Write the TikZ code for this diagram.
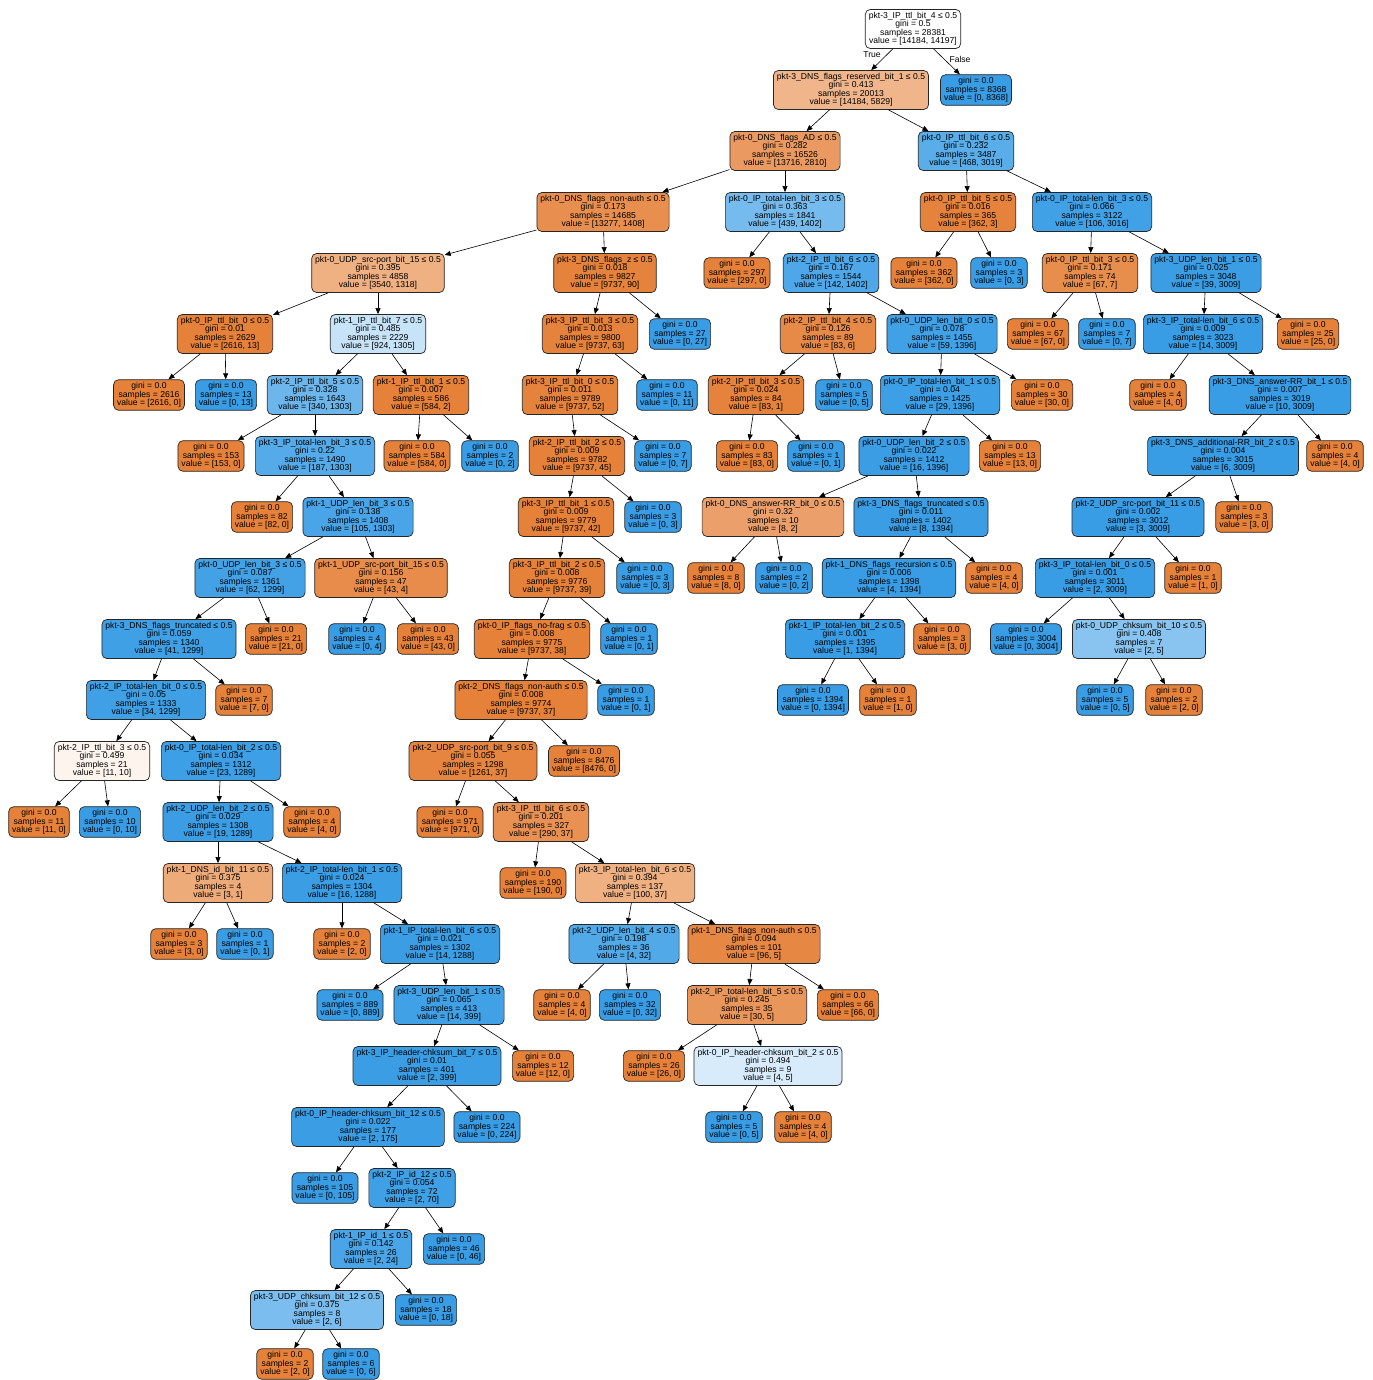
\documentclass[tikz,border=0pt]{standalone}
\usepackage{fontspec}
\setmainfont{Liberation Sans}
\usetikzlibrary{arrows.meta}
\definecolor{cls0}{HTML}{E58139}
\definecolor{cls1}{HTML}{399DE5}

\begin{document}
\begin{tikzpicture}[x=1pt, y=-1pt, >={Triangle[length=6pt,width=5pt]},
  testbox/.style={draw=black!85, line width=0.7pt, rounded corners=5pt, align=center,
    inner xsep=3.5pt, inner ysep=2.8pt, font=\fontsize{8.6}{8.5}\selectfont},
  leafbox/.style={testbox},
  link/.style={->, line width=0.6pt}]
  % page
  \fill[white] (0,0) rectangle (1372,1380);

  % split nodes, row by row
  \node[testbox, fill=white] (A) at (913,29) {pkt-3\_IP\_ttl\_bit\_4 ≤ 0.5\\gini = 0.5\\samples = 28381\\value = [14184, 14197]};

  \node[testbox, fill=cls0!59] (B) at (851,90) {pkt-3\_DNS\_flags\_reserved\_bit\_1 ≤ 0.5\\gini = 0.413\\samples = 20013\\value = [14184, 5829]};

  \node[testbox, fill=cls0!80] (D) at (785,151) {pkt-0\_DNS\_flags\_AD ≤ 0.5\\gini = 0.282\\samples = 16526\\value = [13716, 2810]};
  \node[testbox, fill=cls1!84] (E) at (966,151) {pkt-0\_IP\_ttl\_bit\_6 ≤ 0.5\\gini = 0.232\\samples = 3487\\value = [468, 3019]};

  \node[testbox, fill=cls0!89] (F) at (603,212) {pkt-0\_DNS\_flags\_non-auth ≤ 0.5\\gini = 0.173\\samples = 14685\\value = [13277, 1408]};
  \node[testbox, fill=cls1!69] (G) at (785,212) {pkt-0\_IP\_total-len\_bit\_3 ≤ 0.5\\gini = 0.363\\samples = 1841\\value = [439, 1402]};
  \node[testbox, fill=cls0!99] (H) at (968,212) {pkt-0\_IP\_ttl\_bit\_5 ≤ 0.5\\gini = 0.016\\samples = 365\\value = [362, 3]};
  \node[testbox, fill=cls1!96] (I) at (1092,212) {pkt-0\_IP\_total-len\_bit\_3 ≤ 0.5\\gini = 0.066\\samples = 3122\\value = [106, 3016]};

  \node[testbox, fill=cls0!63] (J) at (378,273) {pkt-0\_UDP\_src-port\_bit\_15 ≤ 0.5\\gini = 0.395\\samples = 4858\\value = [3540, 1318]};
  \node[testbox, fill=cls0!99] (K) at (605,273) {pkt-3\_DNS\_flags\_z ≤ 0.5\\gini = 0.018\\samples = 9827\\value = [9737, 90]};
  \node[testbox, fill=cls1!90] (M) at (831,273) {pkt-2\_IP\_ttl\_bit\_6 ≤ 0.5\\gini = 0.167\\samples = 1544\\value = [142, 1402]};
  \node[testbox, fill=cls0!90] (P) at (1090,273) {pkt-0\_IP\_ttl\_bit\_3 ≤ 0.5\\gini = 0.171\\samples = 74\\value = [67, 7]};
  \node[testbox, fill=cls1!99] (Q) at (1206,273) {pkt-3\_UDP\_len\_bit\_1 ≤ 0.5\\gini = 0.025\\samples = 3048\\value = [39, 3009]};

  \node[testbox, fill=cls0] (R) at (225,334) {pkt-0\_IP\_ttl\_bit\_0 ≤ 0.5\\gini = 0.01\\samples = 2629\\value = [2616, 13]};
  \node[testbox, fill=cls1!29] (S) at (378,334) {pkt-1\_IP\_ttl\_bit\_7 ≤ 0.5\\gini = 0.485\\samples = 2229\\value = [924, 1305]};
  \node[testbox, fill=cls0!99] (T) at (590,334) {pkt-3\_IP\_ttl\_bit\_3 ≤ 0.5\\gini = 0.013\\samples = 9800\\value = [9737, 63]};
  \node[testbox, fill=cls0!93] (V) at (828,334) {pkt-2\_IP\_ttl\_bit\_4 ≤ 0.5\\gini = 0.126\\samples = 89\\value = [83, 6]};
  \node[testbox, fill=cls1!96] (W) at (942,334) {pkt-0\_UDP\_len\_bit\_0 ≤ 0.5\\gini = 0.078\\samples = 1455\\value = [59, 1396]};
  \node[testbox, fill=cls1] (Z) at (1203,334) {pkt-3\_IP\_total-len\_bit\_6 ≤ 0.5\\gini = 0.009\\samples = 3023\\value = [14, 3009]};

  \node[testbox, fill=cls1!74] (a3) at (315,395) {pkt-2\_IP\_ttl\_bit\_5 ≤ 0.5\\gini = 0.328\\samples = 1643\\value = [340, 1303]};
  \node[testbox, fill=cls0] (a4) at (421,395) {pkt-1\_IP\_ttl\_bit\_1 ≤ 0.5\\gini = 0.007\\samples = 586\\value = [584, 2]};
  \node[testbox, fill=cls0!99] (a5) at (570,395) {pkt-3\_IP\_ttl\_bit\_0 ≤ 0.5\\gini = 0.011\\samples = 9789\\value = [9737, 52]};
  \node[testbox, fill=cls0!99] (a7) at (756,395) {pkt-2\_IP\_ttl\_bit\_3 ≤ 0.5\\gini = 0.024\\samples = 84\\value = [83, 1]};
  \node[testbox, fill=cls1!98] (a9) at (940,395) {pkt-0\_IP\_total-len\_bit\_1 ≤ 0.5\\gini = 0.04\\samples = 1425\\value = [29, 1396]};
  \node[testbox, fill=cls1] (a12) at (1280,395) {pkt-3\_DNS\_answer-RR\_bit\_1 ≤ 0.5\\gini = 0.007\\samples = 3019\\value = [10, 3009]};

  \node[testbox, fill=cls1!86] (b2) at (315,456) {pkt-3\_IP\_total-len\_bit\_3 ≤ 0.5\\gini = 0.22\\samples = 1490\\value = [187, 1303]};
  \node[testbox, fill=cls0] (b5) at (577,456) {pkt-2\_IP\_ttl\_bit\_2 ≤ 0.5\\gini = 0.009\\samples = 9782\\value = [9737, 45]};
  \node[testbox, fill=cls1!99] (b9) at (914,456) {pkt-0\_UDP\_len\_bit\_2 ≤ 0.5\\gini = 0.022\\samples = 1412\\value = [16, 1396]};
  \node[testbox, fill=cls1] (b11) at (1223,456) {pkt-3\_DNS\_additional-RR\_bit\_2 ≤ 0.5\\gini = 0.004\\samples = 3015\\value = [6, 3009]};

  \node[testbox, fill=cls1!92] (c2) at (358,517) {pkt-1\_UDP\_len\_bit\_3 ≤ 0.5\\gini = 0.138\\samples = 1408\\value = [105, 1303]};
  \node[testbox, fill=cls0] (c3) at (566,517) {pkt-3\_IP\_ttl\_bit\_1 ≤ 0.5\\gini = 0.009\\samples = 9779\\value = [9737, 42]};
  \node[testbox, fill=cls0!75] (c5) at (773,517) {pkt-0\_DNS\_answer-RR\_bit\_0 ≤ 0.5\\gini = 0.32\\samples = 10\\value = [8, 2]};
  \node[testbox, fill=cls1!99] (c6) at (921,517) {pkt-3\_DNS\_flags\_truncated ≤ 0.5\\gini = 0.011\\samples = 1402\\value = [8, 1394]};
  \node[testbox, fill=cls1] (c7) at (1138,517) {pkt-2\_UDP\_src-port\_bit\_11 ≤ 0.5\\gini = 0.002\\samples = 3012\\value = [3, 3009]};

  \node[testbox, fill=cls1!95] (d1) at (250,578) {pkt-0\_UDP\_len\_bit\_3 ≤ 0.5\\gini = 0.087\\samples = 1361\\value = [62, 1299]};
  \node[testbox, fill=cls0!91] (d2) at (381,578) {pkt-1\_UDP\_src-port\_bit\_15 ≤ 0.5\\gini = 0.156\\samples = 47\\value = [43, 4]};
  \node[testbox, fill=cls0] (d3) at (557,578) {pkt-3\_IP\_ttl\_bit\_2 ≤ 0.5\\gini = 0.008\\samples = 9776\\value = [9737, 39]};
  \node[testbox, fill=cls1] (d7) at (889,578) {pkt-1\_DNS\_flags\_recursion ≤ 0.5\\gini = 0.006\\samples = 1398\\value = [4, 1394]};
  \node[testbox, fill=cls1] (d9) at (1095,578) {pkt-3\_IP\_total-len\_bit\_0 ≤ 0.5\\gini = 0.001\\samples = 3011\\value = [2, 3009]};

  \node[testbox, fill=cls1!97] (e1) at (169,639) {pkt-3\_DNS\_flags\_truncated ≤ 0.5\\gini = 0.059\\samples = 1340\\value = [41, 1299]};
  \node[testbox, fill=cls0] (e5) at (532,639) {pkt-0\_IP\_flags\_no-frag ≤ 0.5\\gini = 0.008\\samples = 9775\\value = [9737, 38]};
  \node[testbox, fill=cls1] (e7) at (845,639) {pkt-1\_IP\_total-len\_bit\_2 ≤ 0.5\\gini = 0.001\\samples = 1395\\value = [1, 1394]};
  \node[testbox, fill=cls1!60] (e10) at (1139,639) {pkt-0\_UDP\_chksum\_bit\_10 ≤ 0.5\\gini = 0.408\\samples = 7\\value = [2, 5]};

  \node[testbox, fill=cls1!97] (f1) at (146,700) {pkt-2\_IP\_total-len\_bit\_0 ≤ 0.5\\gini = 0.05\\samples = 1333\\value = [34, 1299]};
  \node[testbox, fill=cls0] (f3) at (521,700) {pkt-2\_DNS\_flags\_non-auth ≤ 0.5\\gini = 0.008\\samples = 9774\\value = [9737, 37]};

  \node[testbox, fill=cls0!9] (g1) at (102,761) {pkt-2\_IP\_ttl\_bit\_3 ≤ 0.5\\gini = 0.499\\samples = 21\\value = [11, 10]};
  \node[testbox, fill=cls1!98] (g2) at (221,761) {pkt-0\_IP\_total-len\_bit\_2 ≤ 0.5\\gini = 0.034\\samples = 1312\\value = [23, 1289]};
  \node[testbox, fill=cls0!97] (g3) at (473,761) {pkt-2\_UDP\_src-port\_bit\_9 ≤ 0.5\\gini = 0.055\\samples = 1298\\value = [1261, 37]};

  \node[testbox, fill=cls1!99] (h3) at (218,822) {pkt-2\_UDP\_len\_bit\_2 ≤ 0.5\\gini = 0.029\\samples = 1308\\value = [19, 1289]};
  \node[testbox, fill=cls0!87] (h6) at (541,822) {pkt-3\_IP\_ttl\_bit\_6 ≤ 0.5\\gini = 0.201\\samples = 327\\value = [290, 37]};

  \node[testbox, fill=cls0!67] (i1) at (218,883) {pkt-1\_DNS\_id\_bit\_11 ≤ 0.5\\gini = 0.375\\samples = 4\\value = [3, 1]};
  \node[testbox, fill=cls1!99] (i2) at (342,883) {pkt-2\_IP\_total-len\_bit\_1 ≤ 0.5\\gini = 0.024\\samples = 1304\\value = [16, 1288]};
  \node[testbox, fill=cls0!63] (i4) at (635,883) {pkt-3\_IP\_total-len\_bit\_6 ≤ 0.5\\gini = 0.394\\samples = 137\\value = [100, 37]};

  \node[testbox, fill=cls1!99] (j4) at (440,944) {pkt-1\_IP\_total-len\_bit\_6 ≤ 0.5\\gini = 0.021\\samples = 1302\\value = [14, 1288]};
  \node[testbox, fill=cls1!88] (j5) at (624,944) {pkt-2\_UDP\_len\_bit\_4 ≤ 0.5\\gini = 0.198\\samples = 36\\value = [4, 32]};
  \node[testbox, fill=cls0!95] (j6) at (754,944) {pkt-1\_DNS\_flags\_non-auth ≤ 0.5\\gini = 0.094\\samples = 101\\value = [96, 5]};

  \node[testbox, fill=cls1!96] (k2) at (449,1005) {pkt-3\_UDP\_len\_bit\_1 ≤ 0.5\\gini = 0.065\\samples = 413\\value = [14, 399]};
  \node[testbox, fill=cls0!83] (k5) at (747,1005) {pkt-2\_IP\_total-len\_bit\_5 ≤ 0.5\\gini = 0.245\\samples = 35\\value = [30, 5]};

  \node[testbox, fill=cls1!99] (l1) at (427,1066) {pkt-3\_IP\_header-chksum\_bit\_7 ≤ 0.5\\gini = 0.01\\samples = 401\\value = [2, 399]};
  \node[testbox, fill=cls1!20] (l4) at (768,1066) {pkt-0\_IP\_header-chksum\_bit\_2 ≤ 0.5\\gini = 0.494\\samples = 9\\value = [4, 5]};

  \node[testbox, fill=cls1!99] (m1) at (368,1127) {pkt-0\_IP\_header-chksum\_bit\_12 ≤ 0.5\\gini = 0.022\\samples = 177\\value = [2, 175]};
  \node[testbox, fill=cls1!97] (n2) at (412,1188) {pkt-2\_IP\_id\_12 ≤ 0.5\\gini = 0.054\\samples = 72\\value = [2, 70]};
  \node[testbox, fill=cls1!92] (o1) at (371,1249) {pkt-1\_IP\_id\_1 ≤ 0.5\\gini = 0.142\\samples = 26\\value = [2, 24]};
  \node[testbox, fill=cls1!67] (p1) at (317,1310) {pkt-3\_UDP\_chksum\_bit\_12 ≤ 0.5\\gini = 0.375\\samples = 8\\value = [2, 6]};

  % pure leaves, class 0
  \foreach \nm/\xx/\yy/\ss in {L/737/273/297, N/924/273/362, X/1038/334/67, Z2/1308/334/25,
      a1/149/395/2616, a10/1042/395/30, a11/1158/395/4, b1/211/456/153, b3/417/456/584,
      b7/747/456/83, b10/1010/456/13, b12/1335/456/4, c1/262/517/82, c8/1244/517/3,
      d5/716/578/8, d8/994/578/4, d10/1193/578/1, e2/276/639/21, e4/428/639/43, e8/942/639/3,
      f2/244/700/7, f6/888/700/1, f8/1174/700/2, g4/584/761/8476, h1/39/822/11, h4/312/822/4,
      h5/450/822/971, i3/533/883/190, j1/179/944/3, j3/342/944/2, k3/562/1005/4, k6/848/1005/66,
      l2/543/1066/12, l3/654/1066/26, m4/803/1127/4, q1/285/1364/2}
    \node[leafbox, fill=cls0] (\nm) at (\xx,\yy) {gini = 0.0\\samples = \ss\\value = [\ss, 0]};

  % pure leaves, class 1
  \foreach \nm/\xx/\yy/\ss in {C/976/90/8368, O/999/273/3, U/680/334/27, Y/1107/334/7,
      a2/226/395/13, a6/667/395/11, a8/844/395/5, b4/490/456/2, b6/663/456/7, b8/816/456/1,
      c4/653/517/3, d4/645/578/3, d6/784/578/2, e3/357/639/4, e6/629/639/1, e9/1026/639/3004,
      f4/626/700/1, f5/813/700/1394, f7/1105/700/5, h2/110/822/10, j2/245/944/1, k1/350/1005/889,
      k4/630/1005/32, m2/487/1127/224, m3/734/1127/5, n1/325/1188/105, o2/454/1249/46,
      p2/426/1310/18, q2/351/1364/6}
    \node[leafbox, fill=cls1] (\nm) at (\xx,\yy) {gini = 0.0\\samples = \ss\\value = [0, \ss]};

  % root split labels
  \draw[link] (A) -- (B);
  \draw[link] (A) -- (C);
  \node[font=\fontsize{8.6}{8.5}\selectfont] (lblT) at (872,55) {True};
  \node[font=\fontsize{8.6}{8.5}\selectfont] (lblF) at (960,59) {False};

  % tree edges parent/child
  \foreach \p/\q in {B/D, B/E, D/F, D/G, E/H, E/I, F/J, F/K, G/L, G/M, H/N, H/O, I/P, I/Q,
      J/R, J/S, K/T, K/U, M/V, M/W, P/X, P/Y, Q/Z, Q/Z2, R/a1, R/a2, S/a3, S/a4, T/a5, T/a6,
      V/a7, V/a8, W/a9, W/a10, Z/a11, Z/a12, a3/b1, a3/b2, a4/b3, a4/b4, a5/b5, a5/b6,
      a7/b7, a7/b8, a9/b9, a9/b10, a12/b11, a12/b12, b2/c1, b2/c2, b5/c3, b5/c4, b9/c5, b9/c6,
      b11/c7, b11/c8, c2/d1, c2/d2, c3/d3, c3/d4, c5/d5, c5/d6, c6/d7, c6/d8, c7/d9, c7/d10,
      d1/e1, d1/e2, d2/e3, d2/e4, d3/e5, d3/e6, d7/e7, d7/e8, d9/e9, d9/e10, e1/f1, e1/f2,
      e5/f3, e5/f4, e7/f5, e7/f6, e10/f7, e10/f8, f1/g1, f1/g2, f3/g3, f3/g4, g1/h1, g1/h2,
      g2/h3, g2/h4, g3/h5, g3/h6, h3/i1, h3/i2, h6/i3, h6/i4, i1/j1, i1/j2, i2/j3, i2/j4,
      i4/j5, i4/j6, j4/k1, j4/k2, j5/k3, j5/k4, j6/k5, j6/k6, k2/l1, k2/l2, k5/l3, k5/l4,
      l1/m1, l1/m2, l4/m3, l4/m4, m1/n1, m1/n2, n2/o1, n2/o2, o1/p1, o1/p2, p1/q1, p1/q2}
    \draw[link] (\p) -- (\q);
\end{tikzpicture}
\end{document}
